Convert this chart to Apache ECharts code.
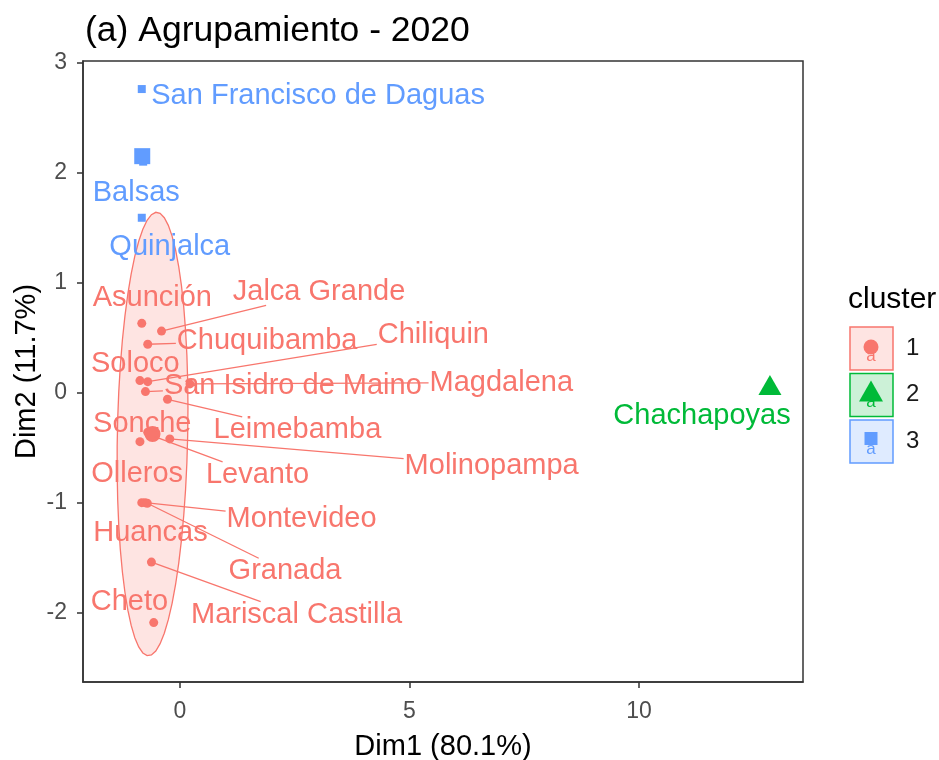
<!DOCTYPE html>
<html>
<head>
<meta charset="utf-8">
<script src="https://cdn.jsdelivr.net/npm/echarts@6/dist/echarts.min.js"></script>
<style>html,body{margin:0;background:#fff}#chart{width:939px;height:760px}</style>
</head>
<body>
<div id="chart"></div>
<script>
// distritos, coordenadas (Dim1, Dim2) y cluster
var distritos = ['Asunción', 'Jalca Grande', 'Chuquibamba', 'Soloco', 'Chiliquin', 'San Isidro de Maino', 'Magdalena',
  'Leimebamba', 'Sonche', 'Levanto', 'Olleros', 'Molinopampa', 'Huancas', 'Montevideo', 'Granada',
  'Mariscal Castilla', 'Cheto', 'Chachapoyas', 'San Francisco de Daguas', 'Balsas', 'Quinjalca']
var dim1 = [-0.83, -0.40, -0.70, -0.87, -0.70, -0.75, 0.22, -0.27, -0.70, -0.55, -0.87, -0.22, -0.83, -0.76, -0.71,
  -0.62, -0.57, 12.85, -0.83, -0.80, -0.83]
var dim2 = [0.63, 0.56, 0.44, 0.11, 0.10, 0.01, 0.08, -0.06, -0.36, -0.40, -0.445, -0.42, -1.00, -1.00, -1.005,
  -1.54, -2.09, 0.07, 2.76, 2.10, 1.59]
var cluster = [1, 1, 1, 1, 1, 1, 1, 1, 1, 1, 1, 1, 1, 1, 1, 1, 1, 2, 3, 3, 3]
var clusterNames = ['1', '2', '3']
var xTicks = [0, 5, 10]
var yTicks = [-2, -1, 0, 1, 2, 3]

// posicion de las etiquetas (repel), en unidades de los ejes
var etiquetaX = [-0.60, 3.03, 1.90, -0.97, 5.52, 2.46, 7.0, 2.56, -0.82, 1.69, -0.93, 6.79, -0.64, 2.65, 2.29,
  2.54, -1.10, 11.37, 3.01, -0.95, -0.22]
var etiquetaY = [0.88, 0.93, 0.49, 0.28, 0.54, 0.08, 0.11, -0.32, -0.27, -0.73, -0.72, -0.65, -1.26, -1.13, -1.605,
  -2.0, -1.885, -0.195, 2.715, 1.83, 1.34]
var segmento = [0, 1, 1, 0, 1, 1, 1, 1, 0, 1, 0, 1, 0, 1, 1, 1, 0, 0, 0, 0, 0]

var colores = ['#F8766D', '#00BA38', '#619CFF']
var rellenos = ['rgba(248,118,109,0.2)', 'rgba(0,186,56,0.2)', 'rgba(97,156,255,0.2)']
var simbolos = ['circle', 'triangle', 'rect']
var fuente = '"Liberation Sans", Arial, sans-serif'

// centros de cada cluster
var centros = clusterNames.map(function (c, k) {
  var sx = 0, sy = 0, n = 0
  for (var i = 0; i < cluster.length; i++) {
    if (cluster[i] === k + 1) { sx += dim1[i]; sy += dim2[i]; n++ }
  }
  return [sx / n, sy / n]
})

// elipse normal al 95% del cluster 1 (como stat_ellipse type = 'norm')
function elipse (k, nivel) {
  var xs = [], ys = []
  for (var i = 0; i < cluster.length; i++) {
    if (cluster[i] === k) { xs.push(dim1[i]); ys.push(dim2[i]) }
  }
  var n = xs.length
  var mx = xs.reduce(function (a, b) { return a + b }, 0) / n
  var my = ys.reduce(function (a, b) { return a + b }, 0) / n
  var sxx = 0, syy = 0, sxy = 0
  for (var j = 0; j < n; j++) {
    sxx += (xs[j] - mx) * (xs[j] - mx)
    syy += (ys[j] - my) * (ys[j] - my)
    sxy += (xs[j] - mx) * (ys[j] - my)
  }
  sxx /= n - 1; syy /= n - 1; sxy /= n - 1
  var d = n - 1
  var qf = (d / 2) * (Math.pow(1 - nivel, -2 / d) - 1)
  var radio = Math.sqrt(2 * qf)
  var r11 = Math.sqrt(sxx), r12 = sxy / r11, r22 = Math.sqrt(syy - r12 * r12)
  var pts = []
  for (var t = 0; t <= 51; t++) {
    var a = t / 51 * 2 * Math.PI
    pts.push([mx + radio * Math.cos(a) * r11, my + radio * (Math.cos(a) * r12 + Math.sin(a) * r22)])
  }
  return pts
}
var elipse1 = elipse(1, 0.95)

var ctx = document.createElement('canvas').getContext('2d')
ctx.font = '29px ' + fuente

var chart = echarts.init(document.getElementById('chart'))

var series = []
series.push({
  type: 'custom',
  z: 1,
  silent: true,
  clip: true,
  data: [0],
  renderItem: function (params, api) {
    return {
      type: 'polygon',
      shape: { points: elipse1.map(function (p) { return api.coord(p) }) },
      style: { fill: rellenos[0], stroke: colores[0], lineWidth: 1.3 }
    }
  }
})

clusterNames.forEach(function (c, k) {
  var datos = []
  for (var i = 0; i < cluster.length; i++) {
    if (cluster[i] === k + 1) datos.push([dim1[i], dim2[i]])
  }
  series.push({
    type: 'scatter',
    z: 3,
    symbol: simbolos[k],
    symbolSize: k === 1 ? [10, 9] : (k === 2 ? 8 : 9),
    itemStyle: { color: colores[k], opacity: 1 },
    data: datos
  })
  series.push({
    type: 'scatter',
    z: 3,
    symbol: simbolos[k],
    symbolSize: k === 1 ? [23, 20] : 16,
    itemStyle: { color: colores[k], opacity: 1 },
    data: [centros[k]]
  })
})

var datosEtiquetas = distritos.map(function (d, i) {
  return [dim1[i], dim2[i], etiquetaX[i], etiquetaY[i], cluster[i] - 1, segmento[i], i]
})
series.push({
  type: 'custom',
  z: 4,
  silent: true,
  clip: false,
  data: datosEtiquetas,
  renderItem: function (params, api) {
    var p = api.coord([api.value(0), api.value(1)])
    var l = api.coord([api.value(2), api.value(3)])
    l[1] += 2
    var k = api.value(4)
    var texto = distritos[api.value(6)]
    var hw = ctx.measureText(texto).width / 2 + 1
    var hh = 13
    var hijos = []
    if (api.value(5)) {
      var dx = p[0] - l[0], dy = p[1] - l[1]
      var s = Math.min(Math.abs(dx) > 0 ? hw / Math.abs(dx) : 1e9, Math.abs(dy) > 0 ? hh / Math.abs(dy) : 1e9)
      hijos.push({
        type: 'line',
        shape: { x1: p[0], y1: p[1], x2: l[0] + dx * s, y2: l[1] + dy * s },
        style: { stroke: colores[k], lineWidth: 1.3 }
      })
    }
    hijos.push({
      type: 'text',
      style: {
        text: texto, x: l[0], y: l[1], fill: colores[k],
        font: '29px ' + fuente, align: 'center', verticalAlign: 'middle'
      }
    })
    return { type: 'group', children: hijos }
  }
})

// leyenda dibujada a mano (estilo ggplot)
var leyenda = [{
  type: 'text', left: 848, top: 285,
  style: { text: 'cluster', font: '30px ' + fuente, fill: '#000' }
}]
clusterNames.forEach(function (c, k) {
  var y0 = 327 + k * 46.5
  leyenda.push({
    type: 'rect', shape: { x: 850, y: y0, width: 43, height: 43 },
    style: { fill: rellenos[k], stroke: colores[k], lineWidth: 1.5 }
  })
  leyenda.push({
    type: 'text', x: 871, y: y0 + 29,
    style: { text: 'a', font: '17px ' + fuente, fill: colores[k], align: 'center', verticalAlign: 'middle' }
  })
  var forma
  if (k === 0) forma = { type: 'circle', shape: { cx: 871, cy: y0 + 20, r: 7.5 } }
  else if (k === 1) forma = { type: 'polygon', shape: { points: [[871, y0 + 7], [883, y0 + 28], [859, y0 + 28]] } }
  else forma = { type: 'rect', shape: { x: 864.5, y: y0 + 12, width: 13, height: 13 } }
  forma.style = { fill: colores[k] }
  leyenda.push(forma)
  leyenda.push({
    type: 'text', left: 906, top: y0 + 9,
    style: { text: c, font: '24px ' + fuente, fill: '#1a1a1a' }
  })
})

chart.setOption({
  animation: false,
  backgroundColor: '#fff',
  title: {
    text: '(a) Agrupamiento - 2020',
    left: 80,
    top: 8,
    textStyle: { fontSize: 35.5, fontWeight: 'normal', color: '#000', fontFamily: fuente }
  },
  grid: {
    left: 83, right: 136, top: 61, bottom: 78,
    containLabel: false,
    outerBoundsMode: 'none',
    show: true, borderColor: '#333', borderWidth: 1.5, backgroundColor: '#fff'
  },
  xAxis: {
    type: 'value',
    min: -2.11,
    max: 13.57,
    name: 'Dim1 (80.1%)',
    nameLocation: 'middle',
    nameGap: 50,
    nameTextStyle: { fontSize: 29, color: '#000', fontFamily: fuente },
    splitLine: { show: false },
    axisLine: { show: true, onZero: false, lineStyle: { color: '#333', width: 1.5 } },
    axisTick: { show: true, inside: false, length: 6, customValues: xTicks, lineStyle: { color: '#333', width: 1.5 } },
    axisLabel: { customValues: xTicks, fontSize: 23, color: '#4D4D4D', fontFamily: fuente, margin: 18 }
  },
  yAxis: {
    type: 'value',
    min: -2.63,
    max: 3.015,
    name: 'Dim2 (11.7%)',
    nameLocation: 'middle',
    nameGap: 42,
    nameMoveOverlap: false,
    nameTextStyle: { fontSize: 29, color: '#000', fontFamily: fuente },
    splitLine: { show: false },
    axisLine: { show: true, onZero: false, lineStyle: { color: '#333', width: 1.5 } },
    axisTick: { show: true, inside: false, length: 6, customValues: yTicks, lineStyle: { color: '#333', width: 1.5 } },
    axisLabel: { customValues: yTicks, fontSize: 23, color: '#4D4D4D', fontFamily: fuente, margin: 16 }
  },
  graphic: leyenda,
  series: series
})
</script>
</body>
</html>
